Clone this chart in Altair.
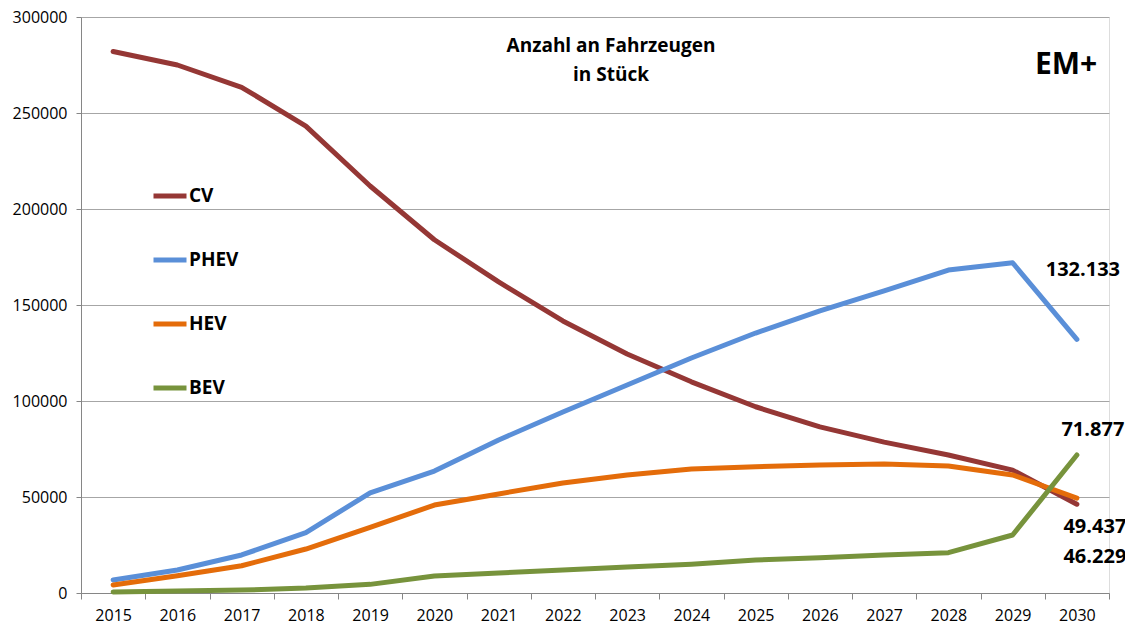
import altair as alt
import pandas as pd

years = [str(y) for y in range(2015, 2031)]
series = ["CV", "PHEV", "HEV", "BEV"]
colors = ["#953735", "#5a8fd8", "#e46c0a", "#77933c"]

cv = [282000, 275000, 263400, 243200, 212000, 184000, 162000, 141700, 124500,
      110000, 97000, 86500, 78600, 71900, 64000, 46229]
phev = [6800, 12000, 19800, 31400, 52200, 63500, 79700, 94300, 108300,
        122400, 135400, 146900, 157300, 168200, 172000, 132133]
hev = [4200, 9000, 14200, 22900, 34200, 45800, 51600, 57300, 61500,
       64600, 65800, 66700, 67200, 66100, 61500, 49437]
bev = [500, 1000, 1500, 2600, 4500, 8800, 10400, 12000, 13500,
       15000, 17200, 18400, 19800, 21000, 30200, 71877]

rows = []
for name, vals in zip(series, [cv, phev, hev, bev]):
    for y, v in zip(years, vals):
        rows.append({"Jahr": y, "Typ": name, "Anzahl": v})
df = pd.DataFrame(rows)

end_labels = ["132.133", "71.877", "49.437", "46.229"]
end_values = [phev[-1], bev[-1], hev[-1], cv[-1]]
lab_df = pd.DataFrame({"Jahr": [years[-1]] * 4, "Anzahl": end_values, "txt": end_labels})

FONT = "Open Sans"

x_enc = alt.X("Jahr:O", sort=years,
              scale=alt.Scale(paddingInner=0, paddingOuter=0),
              axis=alt.Axis(title=None, labelAngle=0, tickBand="extent",
                            labelFontSize=16, labelColor="#000000", labelFont=FONT,
                            domainColor="#868686", tickColor="#868686",
                            tickSize=6, labelPadding=8, grid=False))
y_enc = alt.Y("Anzahl:Q",
              scale=alt.Scale(domain=[0, 300000], nice=False),
              axis=alt.Axis(title=None, values=[0, 50000, 100000, 150000, 200000, 250000, 300000],
                            format="d", labelFontSize=16, labelColor="#000000", labelFont=FONT,
                            domainColor="#868686", tickColor="#868686", tickSize=5,
                            labelPadding=9, gridColor="#a6a6a6", gridWidth=1))

lines = alt.Chart(df).mark_line(strokeWidth=5, strokeCap="round", strokeJoin="round").encode(
    x=x_enc,
    y=y_enc,
    color=alt.Color("Typ:N", sort=series,
                    scale=alt.Scale(domain=series, range=colors),
                    legend=alt.Legend(title=None, orient="none", legendX=70, legendY=160,
                                      symbolType="stroke", symbolSize=1089,
                                      symbolStrokeWidth=5, rowPadding=35,
                                      labelFontSize=19, labelFontWeight="bold",
                                      labelFont=FONT, labelColor="#000000",
                                      labelOffset=0)),
    order=alt.Order("Typ:N", sort="ascending"),
)

def endlabel(i, dx, dy):
    return alt.Chart(lab_df.iloc[[i]]).mark_text(
        fontSize=20, fontWeight="bold", font=FONT, color="#000000",
        dx=dx, dy=dy, align="center", baseline="middle").encode(
        x=alt.X("Jahr:O", sort=years), y=alt.Y("Anzahl:Q"), text="txt:N")

t1 = endlabel(0, 6, -69)
t2 = endlabel(1, 16, -25)
t3 = endlabel(2, 18, 29)
t4 = endlabel(3, 18, 53)

title1 = alt.Chart(pd.DataFrame({"t": ["Anzahl an Fahrzeugen"]})).mark_text(
    fontSize=19, fontWeight="bold", font=FONT, color="#000000").encode(
    x=alt.value(530), y=alt.value(29), text="t:N")
title2 = alt.Chart(pd.DataFrame({"t": ["in Stück"]})).mark_text(
    fontSize=19, fontWeight="bold", font=FONT, color="#000000").encode(
    x=alt.value(530), y=alt.value(58), text="t:N")
em = alt.Chart(pd.DataFrame({"t": ["EM+"]})).mark_text(
    fontSize=30, fontWeight="bold", font=FONT, color="#000000").encode(
    x=alt.value(985), y=alt.value(48), text="t:N")

chart = alt.layer(lines, t1, t2, t3, t4, title1, title2, em).properties(
    width=1028, height=576,
    autosize=alt.AutoSizeParams(type="none"),
    padding={"left": 73, "top": 9, "right": 16, "bottom": 31},
).configure_view(stroke=None).configure(background="#ffffff")

chart.save("out.html", embed_options={"renderer": "svg", "actions": False})
